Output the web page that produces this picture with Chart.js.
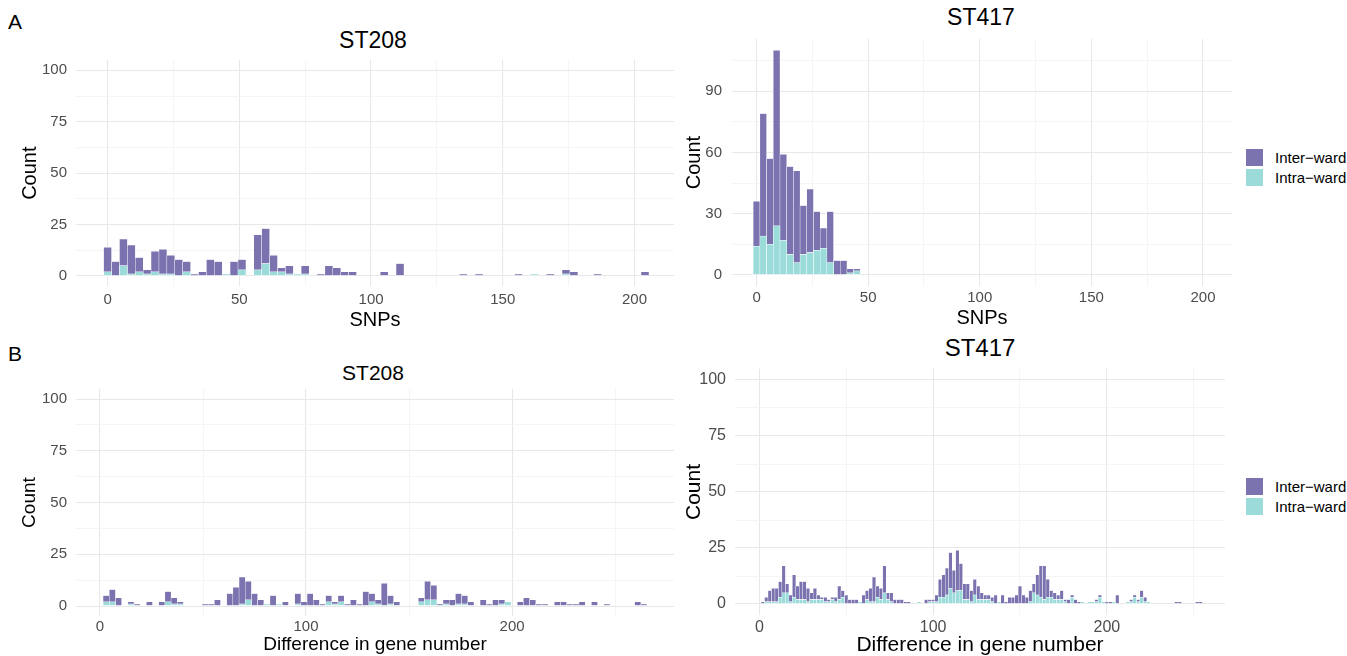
<!DOCTYPE html>
<html><head><meta charset="utf-8">
<script src="https://cdn.jsdelivr.net/npm/chart.js@4/dist/chart.umd.min.js"></script>
<style>
body{margin:0;background:#fff;width:1347px;height:656px;overflow:hidden;position:relative;font-family:"Liberation Sans",Arial,sans-serif;}
canvas{position:absolute;}
.lbl{position:absolute;color:#000;white-space:nowrap;line-height:1;}
.title{transform:translate(-50%,-50%);}
.letter{font-size:21px;}
.legend{position:absolute;font-size:15px;color:#000;}
.legend .row{display:flex;align-items:center;height:20.5px;}
.legend .sw{width:17px;height:17px;margin-right:12px;}
</style></head><body>
<div class="lbl letter" style="left:8px;top:11px;">A</div>
<div class="lbl letter" style="left:8px;top:343px;">B</div>
<div class="lbl title" style="left:373px;top:40px;font-size:23px;">ST208</div>
<div class="lbl title" style="left:981px;top:17px;font-size:23px;">ST417</div>
<div class="lbl title" style="left:373px;top:372px;font-size:21px;">ST208</div>
<div class="lbl title" style="left:980px;top:348px;font-size:24px;">ST417</div>
<canvas id="aL" width="690" height="340" style="left:0;top:0;"></canvas>
<canvas id="aR" width="560" height="340" style="left:680px;top:0;"></canvas>
<canvas id="bL" width="690" height="316" style="left:0;top:340px;"></canvas>
<canvas id="bR" width="560" height="326" style="left:680px;top:330px;"></canvas>
<div class="legend" style="left:1246px;top:147px;">
  <div class="row"><div class="sw" style="background:#7b73af"></div>Inter−ward</div>
  <div class="row"><div class="sw" style="background:#9bdcdb"></div>Intra−ward</div>
</div>
<div class="legend" style="left:1246px;top:476px;">
  <div class="row"><div class="sw" style="background:#7b73af"></div>Inter−ward</div>
  <div class="row"><div class="sw" style="background:#9bdcdb"></div>Intra−ward</div>
</div>
<script>
// ---- Panel A, ST208: SNP distance histogram (bin centres, counts) ----
const aST208Bins  = [0,3,6,9,12,15,18,21,24,27,30,33,36,39,42,45,48,51,57,60,63,66,69,72,75,81,84,87,90,93,105,111,135,141,156,162,168,174,177,186,204];
const aST208Inter = [12,7,13,14,7,2,10,12,9,8,5,1,2,8,7,0,7,5,17,17,8,2,4,0,4,1,5,4,2,2,2,6,1,1,1,0,1,2,2,1,2];
const aST208Intra = [2,0,5,1,2,1,2,1,1,0,2,0,0,0,0,1,0,3,3,6,2,2,1,1,1,0,0,0,0,0,0,0,0,0,0,1,0,1,0,0,0];

// ---- Panel A, ST417: SNP distance histogram ----
const aST417Bins  = [0,3,6,9,12,15,18,21,24,27,30,33,36,39,42,45];
const aST417Inter = [22,60,42,86,42,43,45,24,31,19,10,25,7,7,2,1];
const aST417Intra = [14,19,15,24,17,10,6,10,11,12,13,6,0,0,1,2];

// ---- Panel B, ST208: difference in gene number ----
const bST208Bins  = [3,6,9,15,18,24,30,33,36,39,51,54,57,63,66,69,72,75,78,81,84,87,90,96,99,102,105,108,111,114,117,120,123,126,129,132,135,138,141,144,156,159,162,165,168,171,174,177,180,186,189,192,195,198,204,207,210,213,216,222,225,228,231,234,240,246,261,264];
const bST208Inter = [3,6,4,1,1,2,2,5,3,1,1,1,3,6,9,13,9,6,3,0,5,0,2,5,2,6,3,1,3,1,3,1,3,1,7,4,2,11,4,2,2,9,7,1,2,3,5,4,2,3,1,3,2,0,2,4,3,1,1,2,2,1,1,2,2,1,2,1];
const bST208Intra = [2,2,0,1,0,0,0,2,1,1,0,0,0,0,0,1,3,0,0,1,0,1,0,1,0,0,0,0,2,1,2,0,0,0,0,2,1,0,1,0,2,3,3,0,1,0,1,1,0,0,0,0,1,2,0,0,0,0,0,0,0,0,0,0,0,0,0,0];

// ---- Panel B, ST417: difference in gene number ----
const bST417Bins  = [2,4,6,8,10,12,14,16,18,20,22,24,26,28,30,32,34,36,38,40,42,44,46,48,50,52,54,56,58,60,62,64,66,68,70,72,74,76,78,80,82,84,86,92,96,98,100,102,104,106,108,110,112,114,116,118,120,122,124,126,128,130,132,134,136,138,140,142,144,146,148,150,152,154,156,158,160,162,164,166,168,170,172,174,176,178,180,182,184,186,190,192,194,196,198,200,202,204,206,212,214,216,218,220,222,224,240,242,252,254];
const bST417Inter = [1,2,5,6,6,7,12,4,3,10,6,8,8,6,3,5,2,1,2,1,1,2,6,3,4,2,2,2,0,4,4,6,11,5,5,12,3,4,2,2,2,1,1,0,2,1,1,3,8,10,12,16,10,18,12,7,7,5,7,6,3,2,2,2,4,0,4,1,3,3,4,8,4,3,5,4,9,14,15,8,3,3,2,4,1,2,1,2,1,0,0,0,1,1,0,1,1,0,4,0,1,1,1,3,2,0,1,1,1,1];
const bST417Intra = [0,1,1,1,1,3,5,5,1,3,2,2,2,1,2,2,2,2,1,1,2,1,2,3,0,0,0,0,1,0,2,1,1,3,2,5,2,1,0,0,0,0,0,1,0,1,1,1,3,3,4,7,5,6,6,2,2,1,4,2,2,2,2,1,0,1,0,0,0,0,0,0,0,0,1,5,4,3,2,3,3,2,2,2,1,0,3,0,0,1,1,1,1,3,1,0,0,1,0,1,1,3,1,3,1,1,0,0,0,0];

// ---- axis ticks (labelled) and grid lines ----
const snpTicks   = [0,50,100,150,200];
const snpGrid    = [0,25,50,75,100,125,150,175,200];
const countTicks = [0,25,50,75,100];
const countGrid  = [0,12.5,25,37.5,50,62.5,75,87.5,100];
const st417Ticks = [0,30,60,90];
const st417Grid  = [0,15,30,45,60,75,90,105];
const geneTicks  = [0,100,200];
const geneGrid   = [0,50,100,150,200,250];

const INTER_COLOR = '#7b73af';
const INTRA_COLOR = '#9bdcdb';
const FONT = '"Liberation Sans", Arial, sans-serif';

function series(bins, vals){
  const out = [];
  bins.forEach((b,i)=>{ if (vals[i] > 0) out.push({x:b, y:vals[i]}); });
  return out;
}

function makePanel(id, cfg){
  const canvas = document.getElementById(id);
  const gridStyle = (major) => ({
    drawTicks:false,
    color: c => (c.tick && major.includes(c.tick.value)) ? '#e8e8e8' : '#f2f2f2',
    lineWidth: c => (c.tick && major.includes(c.tick.value)) ? 1.1 : 0.8
  });
  const tickFont = {family:FONT, size:cfg.tickSize};
  const titleFont = {family:FONT, size:cfg.axisTitleSize, lineHeight:1};
  new Chart(canvas.getContext('2d'), {
    type:'bar',
    data:{datasets:[
      {label:'Intra−ward', data:series(cfg.bins, cfg.intra), backgroundColor:INTRA_COLOR},
      {label:'Inter−ward', data:series(cfg.bins, cfg.inter), backgroundColor:INTER_COLOR}
    ]},
    options:{
      responsive:false, animation:false, devicePixelRatio:1,
      layout:{padding:{left:0, top:cfg.padTop, right:cfg.padRight, bottom:0}},
      plugins:{legend:{display:false}, tooltip:{enabled:false}, title:{display:false}},
      datasets:{bar:{categoryPercentage:1, barPercentage:1, borderWidth:0.5, borderColor:'#ffffff', borderSkipped:false}},
      scales:{
        x:{type:'linear', stacked:true, offset:false, bounds:'data', min:cfg.xMin, max:cfg.xMax,
          afterBuildTicks: s => { s.ticks = cfg.xGrid.map(v=>({value:v})); },
          afterFit: s => { s.height = cfg.xAxisH; },
          ticks:{padding:cfg.xTickPad, color:'#4d4d4d', font:tickFont, maxRotation:0, autoSkip:false,
                 callback: v => cfg.xTicks.includes(v) ? String(v) : ''},
          grid:Object.assign(gridStyle(cfg.xTicks), {offset:false}),
          border:{display:false},
          title:{display:true, text:cfg.xTitle, color:'#000', font:titleFont, padding:{top:0,bottom:cfg.xTitlePad}}
        },
        y:{type:'linear', stacked:true, bounds:'data', min:cfg.yMin, max:cfg.yMax,
          afterBuildTicks: s => { s.ticks = cfg.yGrid.map(v=>({value:v})); },
          afterFit: s => { s.width = cfg.yAxisW; },
          ticks:{padding:cfg.yTickPad, color:'#4d4d4d', font:tickFont, autoSkip:false,
                 callback: v => cfg.yTicks.includes(v) ? String(v) : ''},
          grid:gridStyle(cfg.yTicks),
          border:{display:false},
          title:{display:true, text:'Count', color:'#000', font:titleFont, padding:{top:cfg.yTitlePad,bottom:0}}
        }
      }
    }
  });
}

makePanel('aL', {bins:aST208Bins, inter:aST208Inter, intra:aST208Intra,
  xMin:-12, xMax:215, yMin:-5, yMax:105, xGrid:snpGrid, xTicks:snpTicks, yGrid:countGrid, yTicks:countTicks,
  xTitle:'SNPs', tickSize:15, axisTitleSize:20,
  padTop:60, padRight:16, xAxisH:53.7, yAxisW:76, xTickPad:4.7, yTickPad:9, xTitlePad:10, yTitlePad:20});

makePanel('aR', {bins:aST417Bins, inter:aST417Inter, intra:aST417Intra,
  xMin:-11, xMax:213, yMin:-5.5, yMax:115.5, xGrid:snpGrid, xTicks:snpTicks, yGrid:st417Grid, yTicks:st417Ticks,
  xTitle:'SNPs', tickSize:15, axisTitleSize:20,
  padTop:39, padRight:8, xAxisH:53.8, yAxisW:52, xTickPad:3, yTickPad:10, xTitlePad:12, yTitlePad:4});

makePanel('bL', {bins:bST208Bins, inter:bST208Inter, intra:bST208Intra,
  xMin:-11.65, xMax:278.6, yMin:-5, yMax:105, xGrid:geneGrid, xTicks:geneTicks, yGrid:countGrid, yTicks:countTicks,
  xTitle:'Difference in gene number', tickSize:15, axisTitleSize:19,
  padTop:48.7, padRight:16, xAxisH:39.6, yAxisW:76, xTickPad:1.6, yTickPad:9, xTitlePad:1.5, yTitlePad:20.5});

makePanel('bR', {bins:bST417Bins, inter:bST417Inter, intra:bST417Intra,
  xMin:-14, xMax:268, yMin:-5, yMax:105, xGrid:geneGrid, xTicks:geneTicks, yGrid:countGrid, yTicks:countTicks,
  xTitle:'Difference in gene number', tickSize:16, axisTitleSize:21,
  padTop:38.8, padRight:15, xAxisH:40.8, yAxisW:55, xTickPad:2.3, yTickPad:9, xTitlePad:0.5, yTitlePad:3.5});
</script>
</body></html>
